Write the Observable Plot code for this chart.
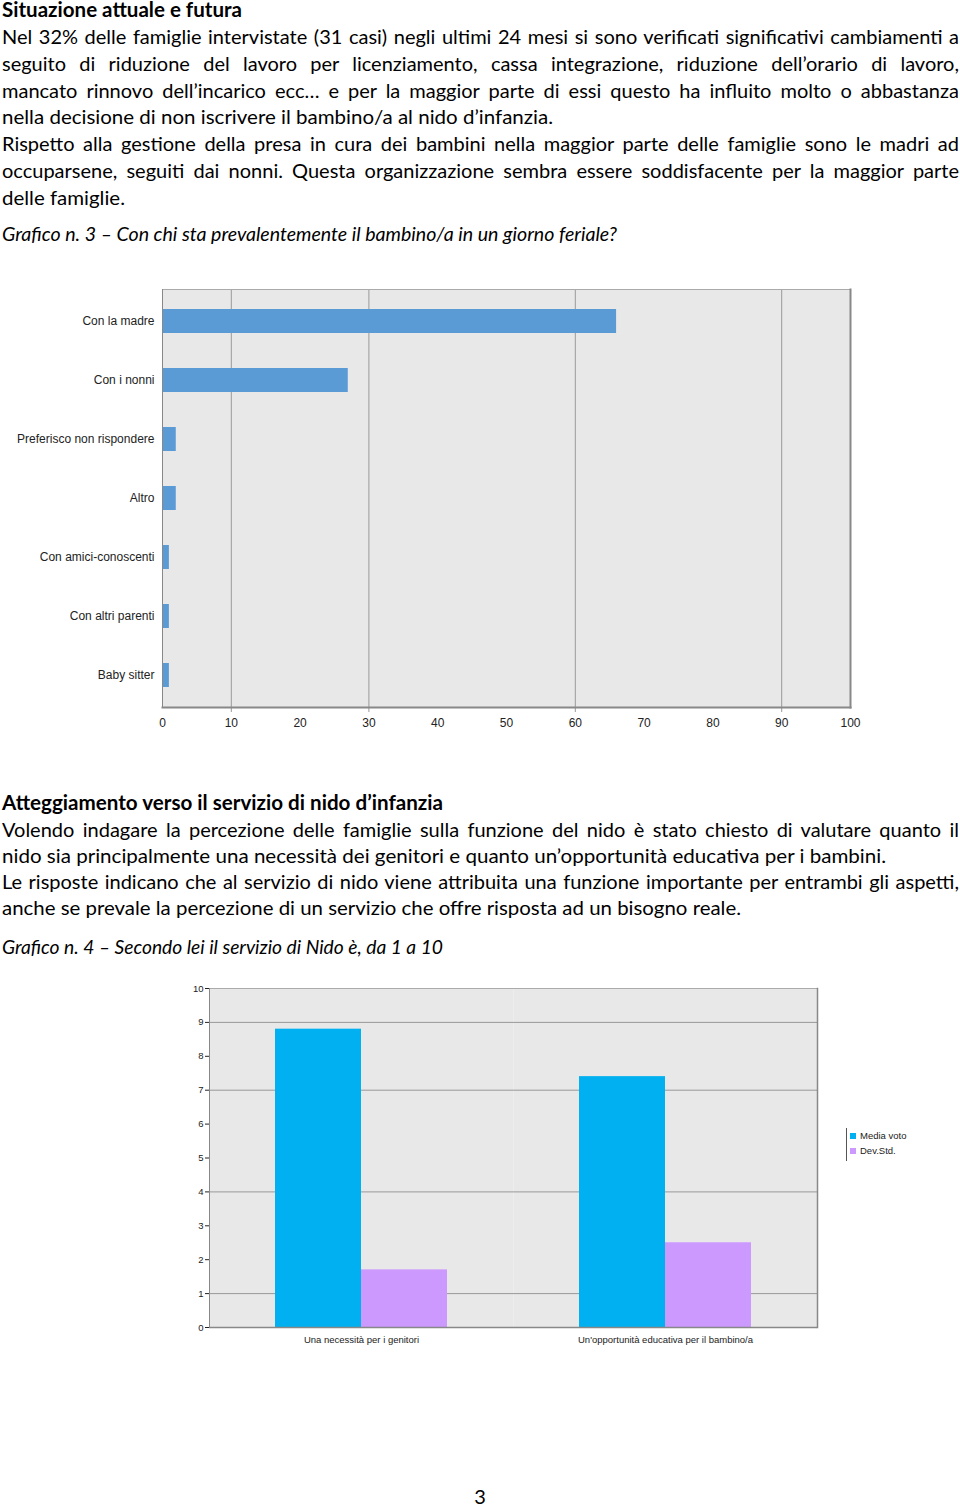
<!DOCTYPE html>
<html><head><meta charset="utf-8">
<script src="https://cdn.jsdelivr.net/npm/d3@7"></script>
<script src="https://cdn.jsdelivr.net/npm/@observablehq/plot@0.6"></script>
<style>
html,body{margin:0;padding:0;background:#fff;}
body{position:relative;width:960px;height:1505px;overflow:hidden;font-family:Lato,"Open Sans",sans-serif;color:#000;}
.ln{position:absolute;left:2px;white-space:nowrap;font-size:20px;line-height:26.75px;}
.ln span{display:inline-block;transform-origin:0 50%;}
.b{font-weight:700;}
.i{font-style:italic;}
.chart{position:absolute;left:0;}
#legend{position:absolute;left:846px;top:1128px;height:33px;border-left:1px solid #555;padding-left:3px;font-family:"Liberation Sans",Arial,sans-serif;font-size:9.5px;color:#222;}
#legend .it{height:15px;line-height:15px;white-space:nowrap;}
#legend .sw{display:inline-block;width:6px;height:6px;margin-right:4px;vertical-align:0px;}
</style></head><body>
<div id="c1" class="chart" style="top:280px"></div>
<div id="c2" class="chart" style="top:975px"></div>
<div id="legend"></div>
<script>
// ---------- text content ----------
const sec1Heading = "Situazione attuale e futura";
const sec1Lines = [
  "Nel 32% delle famiglie intervistate (31 casi) negli ultimi 24 mesi si sono verificati significativi cambiamenti a",
  "seguito di riduzione del lavoro per licenziamento, cassa integrazione, riduzione dell’orario di lavoro,",
  "mancato rinnovo dell’incarico ecc… e per la maggior parte di essi questo ha influito molto o abbastanza",
  "nella decisione di non iscrivere il bambino/a al nido d’infanzia.",
  "Rispetto alla gestione della presa in cura dei bambini nella maggior parte delle famiglie sono le madri ad",
  "occuparsene, seguiti dai nonni. Questa organizzazione sembra essere soddisfacente per la maggior parte",
  "delle famiglie."
];
const caption3 = "Grafico n. 3 – Con chi sta prevalentemente il bambino/a in un giorno feriale?";
const sec2Heading = "Atteggiamento verso il servizio di nido d’infanzia";
const sec2Lines = [
  "Volendo indagare la percezione delle famiglie sulla funzione del nido è stato chiesto di valutare quanto il",
  "nido sia principalmente una necessità dei genitori e quanto un’opportunità educativa per i bambini.",
  "Le risposte indicano che al servizio di nido viene attribuita una funzione importante per entrambi gli aspetti,",
  "anche se prevale la percezione di un servizio che offre risposta ad un bisogno reale."
];
const caption4 = "Grafico n. 4 – Secondo lei il servizio di Nido è, da 1 a 10";
const pageNumber = "3";

// ---------- chart 1 data ----------
const careCategories = ["Con la madre","Con i nonni","Preferisco non rispondere","Altro","Con amici-conoscenti","Con altri parenti","Baby sitter"];
const careValues = [66, 27, 2, 2, 1, 1, 1];
const careTicks = [0,10,20,30,40,50,60,70,80,90,100];
const careGrid = [10,30,60,90];

// ---------- chart 2 data ----------
const nidoGroups = ["Una necessità per i genitori","Un'opportunità educativa per il bambino/a"];
const nidoSeries = ["Media voto","Dev.Std."];
const mediaVoto = [8.8, 7.4];
const devStd = [1.7, 2.5];
const nidoTicks = [0,1,2,3,4,5,6,7,8,9,10];
const nidoGrid = [1,4,7,9];

// ---------- text layout ----------
const LEFT = 2, BASE = 21.1;
function placeLine(text, baseline, endX, cls, justify) {
  const div = document.createElement('div');
  div.className = 'ln ' + (cls || '');
  div.style.top = (baseline - BASE) + 'px';
  const span = document.createElement('span');
  span.textContent = text;
  div.appendChild(span);
  document.body.appendChild(div);
  const w = span.getBoundingClientRect().width;
  const target = endX - LEFT;
  const spaces = (text.match(/ /g) || []).length;
  if (justify && w < target && spaces) {
    span.style.wordSpacing = ((target - w) / spaces) + 'px';
  } else {
    span.style.transform = 'scaleX(' + (target / w) + ')';
  }
}
const sec1Base = [44.1, 70.9, 97.7, 124.5, 151.3, 178.1, 204.9];
const sec1End = [959, 959, 959, 553, 959, 959, 125];
const sec1Just = [true, true, true, false, true, true, false];
placeLine(sec1Heading, 17.3, 242, 'b', false);
sec1Lines.forEach((t, i) => placeLine(t, sec1Base[i], sec1End[i], '', sec1Just[i]));
placeLine(caption3, 241.5, 617, 'i', false);

const sec2Base = [836.7, 862.9, 889.1, 915.3];
const sec2End = [959, 886, 959, 741];
const sec2Just = [true, false, true, false];
placeLine(sec2Heading, 810.5, 443, 'b', false);
sec2Lines.forEach((t, i) => placeLine(t, sec2Base[i], sec2End[i], '', sec2Just[i]));
placeLine(caption4, 954, 443, 'i', false);

const pn = document.createElement('div');
pn.className = 'ln';
pn.style.left = '0px'; pn.style.width = '960px'; pn.style.textAlign = 'center';
pn.style.top = (1504 - BASE) + 'px';
pn.textContent = pageNumber;
document.body.appendChild(pn);

// ---------- chart 1 ----------
const careData = careCategories.map((c, i) => ({cat: c, value: careValues[i]}));
const chart1 = Plot.plot({
  width: 960, height: 460,
  marginLeft: 162, marginRight: 110, marginTop: 9, marginBottom: 33,
  style: {fontFamily: "'Liberation Sans', Arial, sans-serif", fontSize: "12px", color: "#222", background: "transparent"},
  x: {domain: [0, 100], ticks: careTicks, tickSize: 0, tickPadding: 11, label: null},
  y: {domain: careCategories, paddingInner: 0.6, paddingOuter: 0.3, tickSize: 0, tickPadding: 8, label: null},
  marks: [
    Plot.frame({fill: "#e8e8e8", stroke: "none"}),
    Plot.ruleX(careGrid, {stroke: "#999", strokeWidth: 1, insetBottom: -5}),
    Plot.barX(careData, {x: "value", y: "cat", fill: "#5b9bd5"}),
    Plot.frame({anchor: "top", stroke: "#aaa"}),
    Plot.frame({anchor: "right", stroke: "#888", strokeWidth: 2}),
    Plot.frame({anchor: "bottom", stroke: "#888", strokeWidth: 2}),
    Plot.ruleX([0], {stroke: "#888"})
  ]
});
document.getElementById('c1').appendChild(chart1);

// ---------- chart 2 ----------
const nidoData = [];
nidoGroups.forEach((g, i) => {
  nidoData.push({group: g, series: nidoSeries[0], value: mediaVoto[i]});
  nidoData.push({group: g, series: nidoSeries[1], value: devStd[i]});
});
const nidoColors = ["#00b0f0", "#cc99ff"];
const chart2 = Plot.plot({
  width: 960, height: 380,
  marginLeft: 208, marginRight: 143, marginTop: 13, marginBottom: 28,
  style: {fontFamily: "'Liberation Sans', Arial, sans-serif", fontSize: "9.5px", color: "#222", background: "transparent"},
  fx: {domain: nidoGroups, padding: 0, label: null, tickSize: 0, tickPadding: 9, axis: "bottom"},
  x: {domain: nidoSeries, paddingInner: 0, paddingOuter: 0.76, axis: null},
  y: {domain: [0, 10], ticks: nidoTicks, tickSize: 4, tickPadding: 2, label: null},
  color: {domain: nidoSeries, range: nidoColors},
  marks: [
    Plot.frame({fill: "#e8e8e8", stroke: "none"}),
    Plot.ruleY(nidoGrid, {stroke: "#999"}),
    Plot.barY(nidoData, {fx: "group", x: "series", y: "value", fill: "series"}),
    Plot.ruleY([10], {stroke: "#aaa"}),
    Plot.ruleY([0], {stroke: "#888", strokeWidth: 1.5}),
    Plot.frame({anchor: "left", stroke: "#888", facetAnchor: "left"}),
    Plot.frame({anchor: "right", stroke: "#888", strokeWidth: 1.5, facetAnchor: "right"})
  ]
});
document.getElementById('c2').appendChild(chart2);

// ---------- legend ----------
const lg = document.getElementById('legend');
nidoSeries.forEach((s, i) => {
  const it = document.createElement('div');
  it.className = 'it';
  const sw = document.createElement('span');
  sw.className = 'sw';
  sw.style.background = nidoColors[i];
  it.appendChild(sw);
  it.appendChild(document.createTextNode(s));
  lg.appendChild(it);
});
</script>
</body></html>
